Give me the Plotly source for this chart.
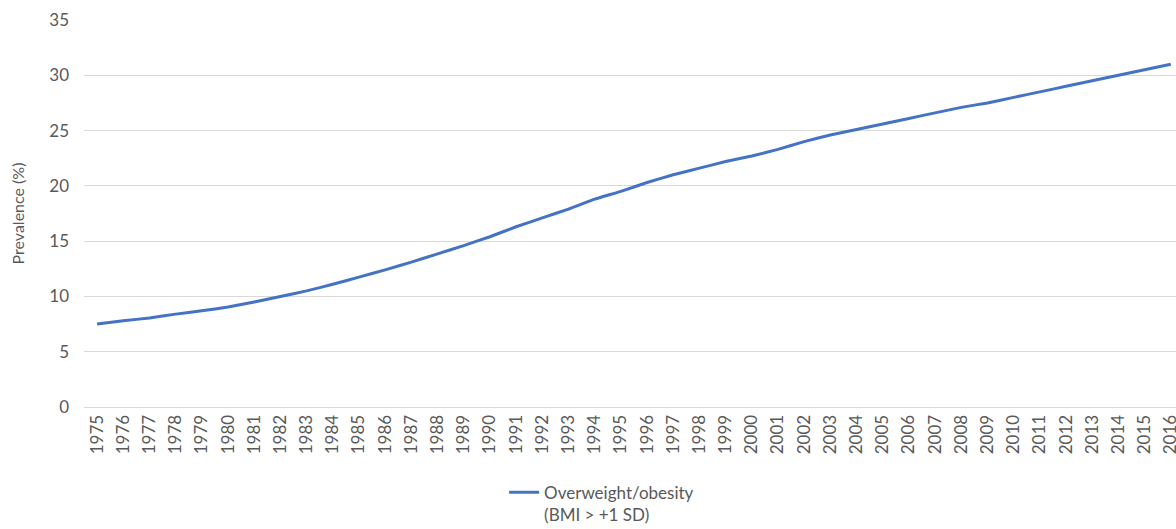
import plotly.graph_objects as go

years = [str(y) for y in range(1975, 2017)]
prevalence = [
    7.5, 7.8, 8.05, 8.4, 8.7, 9.05, 9.5, 10.0, 10.5, 11.1,
    11.75, 12.4, 13.1, 13.85, 14.6, 15.4, 16.3, 17.1, 17.9, 18.8,
    19.5, 20.3, 21.0, 21.6, 22.2, 22.7, 23.3, 24.0, 24.6, 25.1,
    25.6, 26.1, 26.6, 27.1, 27.5, 28.0, 28.5, 29.0, 29.5, 30.0,
    30.5, 31.0,
]
series_name = "Overweight/obesity<br>(BMI > +1 SD)"
y_ticks = [0, 5, 10, 15, 20, 25, 30, 35]

FONT = "Lato"
GREY = "#595959"
GRID = "#d9d9d9"

fig = go.Figure()
fig.add_trace(go.Scatter(
    x=years, y=prevalence, mode="lines", name=series_name,
    line=dict(color="#4472C4", width=3, shape="spline", smoothing=0.3),
))

fig.update_layout(
    width=1176, height=529,
    margin=dict(l=84, r=0, t=20, b=122, autoexpand=False),
    paper_bgcolor="white", plot_bgcolor="white",
    font=dict(family=FONT, size=17, color=GREY),
    showlegend=True,
    legend=dict(
        orientation="h", x=0.474, xanchor="center", y=-0.175, yanchor="top",
        font=dict(family=FONT, size=17, color=GREY), valign="top",
        itemwidth=30, tracegroupgap=0,
    ),
    xaxis=dict(
        type="category", range=[-0.5, 41.2], automargin=False,
        tickangle=-90, showgrid=False, showline=True, linecolor=GRID,
        linewidth=1, ticks="", tickfont=dict(size=17, color=GREY),
    ),
    yaxis=dict(
        range=[0, 35], tickvals=y_ticks, showgrid=True, gridcolor=GRID,
        gridwidth=1, zeroline=False, ticks="", showline=False, automargin=False,
        tickfont=dict(size=17, color=GREY), ticklabelstandoff=14,
        title=dict(text="Prevalence (%)", font=dict(size=16, color=GREY), standoff=20),
    ),
)

fig.write_html("out.html")
